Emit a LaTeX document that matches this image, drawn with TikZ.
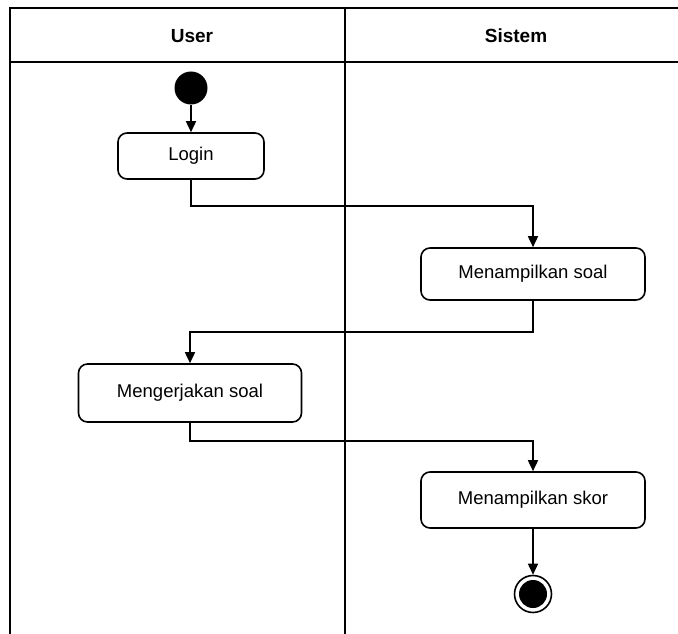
\documentclass[tikz,border=0pt]{standalone}
\usepackage{fontspec}
\setmainfont{Liberation Sans}
\usetikzlibrary{arrows.meta}
\begin{document}
\begin{tikzpicture}[x=1pt,y=-1pt,
  lane/.style={line width=1.8pt},
  act/.style={draw, line width=1.6pt, rounded corners=9pt, minimum height=52pt, font=\fontsize{18.5}{22}\selectfont},
  flow/.style={line width=1.6pt, -{Triangle[length=11pt,width=10pt]}},
  hdr/.style={font=\fontsize{19}{23}\selectfont\bfseries}]
\useasboundingbox (0,0) rectangle (678,634);
% swimlanes
\draw[lane] (10,634) -- (10,8) -- (678,8);
\draw[lane] (10,62) -- (678,62);
\draw[lane] (345,8) -- (345,634);
\node[hdr] (huser) at (192,36) {User};
\node[hdr] (hsis) at (516,36) {Sistem};
% nodes
\node[circle, fill=black, minimum size=33pt, inner sep=0pt] (start) at (191,88) {};
\node[act, minimum width=146pt, minimum height=46pt] (login) at (191,156) {Login};
\node[act, minimum width=224pt] (soal) at (533,274) {Menampilkan soal};
\node[act, minimum width=223pt, minimum height=58pt] (kerja) at (190,393) {Mengerjakan soal};
\node[act, minimum width=224pt, minimum height=56pt] (skor) at (533,500) {Menampilkan skor};
\node[circle, draw, line width=1.6pt, minimum size=37pt, inner sep=0pt,
  path picture={\fill (path picture bounding box.center) circle (14pt);}] (end) at (533,594) {};
% connectors
\draw[flow] (start) -- (login);
\draw[flow] (login.south) -- ([yshift=-26pt]login.south) -| (soal.north);
\draw[flow] (soal.south) -- ([yshift=-31pt]soal.south) -| (kerja.north);
\draw[flow] (kerja.south) -- ([yshift=-18pt]kerja.south) -| (skor.north);
\draw[flow] (skor) -- (end);
\end{tikzpicture}
\end{document}
